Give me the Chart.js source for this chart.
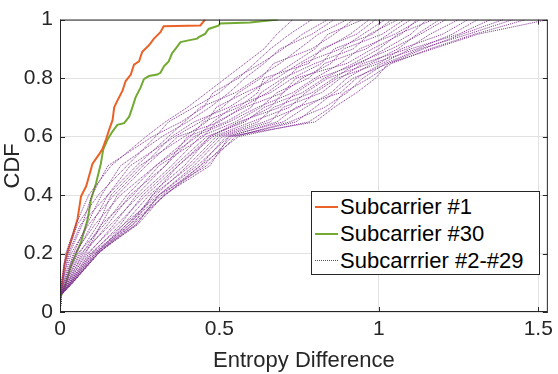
<!DOCTYPE html>
<html>
<head>
<meta charset="utf-8">
<script src="https://cdn.jsdelivr.net/npm/chart.js@4.4.1/dist/chart.umd.min.js"></script>
<style>
  body { margin: 0; background: #fff; }
  #wrap { position: relative; width: 558px; height: 374px; }
  #legend {
    position: absolute; left: 311px; top: 191px; width: 227px; height: 82px;
    border: 1px solid #262626; background: #fff;
    font-family: "Liberation Sans", Arial, sans-serif; font-size: 22px; color: #000;
  }
  .row { position: absolute; left: 0; height: 27px; line-height: 27px; white-space: nowrap; }
  .swatch { position: absolute; left: 3px; top: 13px; width: 23px; height: 0; }
  .txt { position: absolute; left: 28px; top: 0; }
</style>
</head>
<body>
<div id="wrap">
  <canvas id="myChart" width="558" height="374"></canvas>
  <div id="legend"></div>
</div>
<script>
// CDF of subcarrier #1 (orange)
const sub1X = [0, 0, 0.004, 0.014, 0.024, 0.04, 0.055, 0.066, 0.082, 0.102, 0.123, 0.133, 0.144, 0.154, 0.165, 0.17, 0.18, 0.196, 0.206, 0.222, 0.232, 0.248, 0.258, 0.279, 0.294, 0.315, 0.325, 0.44, 0.455];
const sub1Y = [0, 0.05, 0.073, 0.163, 0.207, 0.262, 0.318, 0.396, 0.43, 0.507, 0.54, 0.557, 0.59, 0.623, 0.657, 0.70, 0.723, 0.757, 0.79, 0.812, 0.846, 0.857, 0.89, 0.912, 0.934, 0.957, 0.977, 0.98, 1.0];

// CDF of subcarrier #30 (green)
const sub30X = [0, 0, 0.01, 0.035, 0.066, 0.087, 0.097, 0.113, 0.128, 0.133, 0.136, 0.149, 0.165, 0.18, 0.201, 0.217, 0.227, 0.237, 0.253, 0.263, 0.279, 0.305, 0.315, 0.326, 0.341, 0.351, 0.367, 0.378, 0.403, 0.43, 0.435, 0.455, 0.466, 0.497, 0.502, 0.596, 0.684];
const sub30Y = [0, 0.05, 0.07, 0.16, 0.24, 0.318, 0.384, 0.44, 0.507, 0.54, 0.557, 0.59, 0.618, 0.64, 0.646, 0.668, 0.70, 0.734, 0.768, 0.796, 0.807, 0.812, 0.818, 0.84, 0.857, 0.884, 0.907, 0.923, 0.929, 0.935, 0.94, 0.951, 0.968, 0.979, 0.987, 0.99, 1.0];

// subcarriers #2-#29: entropy difference at each CDF level
const cdfLevels = [0, 0.06, 0.1, 0.2, 0.3, 0.4, 0.5, 0.6, 0.65, 0.7, 0.75, 0.8, 0.85, 0.9, 0.95, 1.0];
const midX = [
  [0, 0, 0.004, 0.018, 0.05, 0.09, 0.16, 0.27, 0.33, 0.40, 0.46, 0.52, 0.58, 0.64, 0.68, 0.73],
  [0, 0, 0.007, 0.03, 0.07, 0.10, 0.15, 0.29, 0.38, 0.45, 0.48, 0.56, 0.61, 0.66, 0.72, 0.79],
  [0, 0, 0.005, 0.022, 0.055, 0.12, 0.21, 0.30, 0.34, 0.42, 0.50, 0.55, 0.63, 0.70, 0.76, 0.84],
  [0, 0.001, 0.012, 0.042, 0.085, 0.13, 0.19, 0.32, 0.40, 0.47, 0.53, 0.58, 0.64, 0.69, 0.79, 0.86],
  [0, 0, 0.009, 0.026, 0.065, 0.15, 0.24, 0.34, 0.39, 0.44, 0.55, 0.62, 0.69, 0.75, 0.81, 0.90],
  [0, 0.001, 0.016, 0.05, 0.10, 0.15, 0.22, 0.36, 0.44, 0.51, 0.56, 0.63, 0.67, 0.79, 0.86, 0.92],
  [0, 0.002, 0.011, 0.035, 0.09, 0.17, 0.26, 0.35, 0.42, 0.53, 0.60, 0.66, 0.73, 0.80, 0.84, 0.95],
  [0, 0.001, 0.02, 0.06, 0.12, 0.16, 0.25, 0.39, 0.46, 0.49, 0.58, 0.68, 0.75, 0.83, 0.91, 0.97],
  [0, 0.002, 0.013, 0.045, 0.11, 0.19, 0.30, 0.41, 0.45, 0.56, 0.62, 0.64, 0.78, 0.82, 0.93, 0.99],
  [0, 0.003, 0.025, 0.07, 0.13, 0.18, 0.27, 0.37, 0.50, 0.57, 0.65, 0.71, 0.76, 0.88, 0.95, 1.02],
  [0, 0.002, 0.017, 0.055, 0.14, 0.21, 0.30, 0.43, 0.48, 0.54, 0.66, 0.73, 0.82, 0.86, 0.98, 1.04],
  [0, 0.003, 0.022, 0.075, 0.15, 0.22, 0.33, 0.40, 0.52, 0.60, 0.63, 0.70, 0.80, 0.92, 0.97, 1.06],
  [0, 0.002, 0.028, 0.08, 0.13, 0.23, 0.31, 0.45, 0.49, 0.58, 0.70, 0.76, 0.85, 0.89, 1.01, 1.08],
  [0, 0.003, 0.02, 0.065, 0.16, 0.25, 0.35, 0.44, 0.55, 0.63, 0.68, 0.78, 0.83, 0.96, 1.03, 1.10],
  [0, 0.004, 0.031, 0.09, 0.17, 0.24, 0.33, 0.42, 0.53, 0.62, 0.73, 0.80, 0.88, 0.94, 1.05, 1.13],
  [0, 0.003, 0.024, 0.085, 0.18, 0.27, 0.37, 0.47, 0.57, 0.66, 0.70, 0.74, 0.90, 0.98, 1.07, 1.12],
  [0, 0.004, 0.033, 0.10, 0.19, 0.26, 0.36, 0.46, 0.58, 0.64, 0.76, 0.83, 0.92, 1.00, 1.06, 1.17],
  [0, 0.003, 0.027, 0.095, 0.20, 0.28, 0.39, 0.47, 0.56, 0.69, 0.74, 0.81, 0.94, 1.02, 1.10, 1.15],
  [0, 0.004, 0.035, 0.11, 0.21, 0.30, 0.40, 0.49, 0.62, 0.67, 0.79, 0.86, 0.93, 1.04, 1.13, 1.21],
  [0, 0.005, 0.03, 0.10, 0.22, 0.29, 0.37, 0.48, 0.60, 0.72, 0.77, 0.84, 0.97, 1.06, 1.12, 1.19],
  [0, 0.004, 0.037, 0.115, 0.20, 0.31, 0.42, 0.51, 0.66, 0.70, 0.82, 0.88, 0.95, 1.09, 1.16, 1.25],
  [0, 0.005, 0.033, 0.105, 0.23, 0.29, 0.41, 0.50, 0.64, 0.75, 0.80, 0.87, 1.00, 1.07, 1.20, 1.28],
  [0, 0.005, 0.038, 0.12, 0.21, 0.32, 0.44, 0.52, 0.70, 0.77, 0.85, 0.90, 0.98, 1.12, 1.23, 1.31],
  [0, 0.004, 0.034, 0.11, 0.24, 0.31, 0.43, 0.53, 0.68, 0.74, 0.88, 0.93, 1.01, 1.10, 1.25, 1.35],
  [0, 0.005, 0.04, 0.12, 0.22, 0.33, 0.45, 0.54, 0.74, 0.80, 0.86, 0.92, 1.03, 1.14, 1.26, 1.39],
  [0, 0.005, 0.037, 0.118, 0.24, 0.31, 0.46, 0.55, 0.72, 0.83, 0.90, 0.95, 1.02, 1.13, 1.28, 1.42],
  [0, 0.005, 0.04, 0.12, 0.23, 0.33, 0.44, 0.56, 0.78, 0.85, 0.89, 0.97, 1.04, 1.16, 1.30, 1.46],
  [0, 0.005, 0.039, 0.115, 0.245, 0.325, 0.47, 0.53, 0.80, 0.86, 0.93, 0.99, 1.03, 1.17, 1.31, 1.53]
];

const labels = ['Subcarrier #1', 'Subcarrier #30', 'Subcarrrier #2-#29'];
const colors = ['#ea6228', '#72aa32', '#7e2f8e'];
const xTicks = [0, 0.5, 1, 1.5];
const yTicks = [0, 0.2, 0.4, 0.6, 0.8, 1];

const toPts = (xs, ys) => xs.map((x, i) => ({ x: x, y: ys[i] }));

const datasets = midX.map(xs => ({
  label: labels[2],
  data: toPts(xs, cdfLevels),
  borderColor: colors[2],
  borderWidth: 1,
  borderDash: [1, 1],
  pointRadius: 0,
  fill: false
}));
datasets.push({
  label: labels[0], data: toPts(sub1X, sub1Y), borderColor: colors[0],
  borderWidth: 2, pointRadius: 0, fill: false
});
datasets.push({
  label: labels[1], data: toPts(sub30X, sub30Y), borderColor: colors[1],
  borderWidth: 2, pointRadius: 0, fill: false
});

// axes box and inward tick marks, drawn on top like MATLAB
const boxPlugin = {
  id: 'box',
  afterDatasetsDraw(chart) {
    const { ctx, chartArea: a, scales } = chart;
    ctx.save();
    ctx.strokeStyle = '#262626';
    ctx.lineWidth = 1;
    ctx.strokeRect(a.left + 0.5, a.top + 0.5, a.right - a.left - 1, a.bottom - a.top - 1);
    ctx.beginPath();
    xTicks.forEach(v => {
      const px = Math.round(scales.x.getPixelForValue(v)) + 0.5;
      ctx.moveTo(px, a.bottom); ctx.lineTo(px, a.bottom - 5);
      ctx.moveTo(px, a.top); ctx.lineTo(px, a.top + 5);
    });
    yTicks.forEach(v => {
      const py = Math.round(scales.y.getPixelForValue(v)) + 0.5;
      ctx.moveTo(a.left, py); ctx.lineTo(a.left + 5, py);
      ctx.moveTo(a.right, py); ctx.lineTo(a.right - 5, py);
    });
    ctx.stroke();
    ctx.restore();
  }
};

const font = 'Liberation Sans, Arial, sans-serif';

new Chart(document.getElementById('myChart'), {
  type: 'line',
  data: { datasets: datasets },
  options: {
    responsive: false,
    animation: false,
    layout: { padding: { top: 12, right: 6, left: 0, bottom: 0 } },
    plugins: { legend: { display: false }, tooltip: { enabled: false } },
    scales: {
      x: {
        type: 'linear', min: 0, max: 1.53,
        afterFit: s => { s.height = 62; },
        afterBuildTicks: s => { s.ticks = xTicks.map(v => ({ value: v })); },
        ticks: { includeBounds: false, padding: 5, color: '#262626', font: { family: font, size: 21 }, maxRotation: 0,
                 callback: v => String(v) },
        grid: { color: '#e2e2e2', drawTicks: false },
        border: { display: false },
        title: { display: true, text: 'Entropy Difference', color: '#262626', padding: 0,
                 font: { family: font, size: 22 } }
      },
      y: {
        min: 0, max: 1,
        afterFit: s => { s.width = 60; },
        afterBuildTicks: s => { s.ticks = yTicks.map(v => ({ value: v })); },
        ticks: { padding: 7, color: '#262626', font: { family: font, size: 21 },
                 callback: v => String(v) },
        grid: { color: '#e2e2e2', drawTicks: false },
        border: { display: false },
        title: { display: true, text: 'CDF', color: '#262626', padding: 0,
                 font: { family: font, size: 22 } }
      }
    }
  },
  plugins: [boxPlugin]
});

// legend inside the axes, bottom right
const legend = document.getElementById('legend');
labels.forEach((lab, i) => {
  const row = document.createElement('div');
  row.className = 'row';
  row.style.top = (1 + i * 27) + 'px';
  const sw = document.createElement('div');
  sw.className = 'swatch';
  sw.style.borderTop = i < 2 ? '2px solid ' + colors[i] : '1px dotted ' + colors[i];
  const t = document.createElement('span');
  t.className = 'txt';
  t.textContent = lab;
  row.appendChild(sw);
  row.appendChild(t);
  legend.appendChild(row);
});
</script>
</body>
</html>
